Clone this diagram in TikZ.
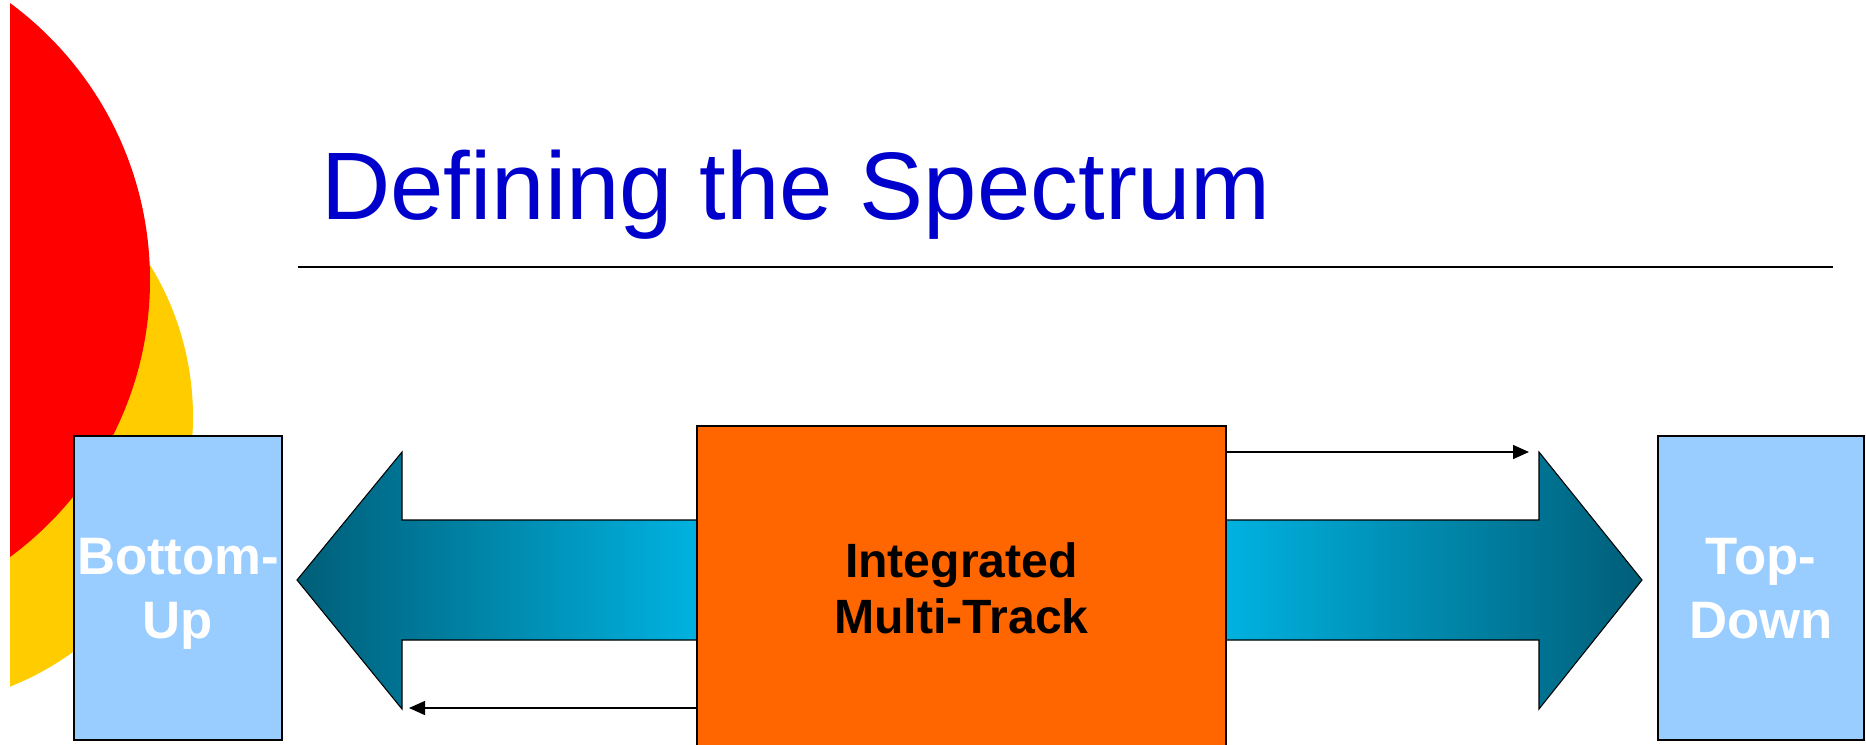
\documentclass[tikz,border=0pt]{standalone}
\usepackage{fontspec}
\setmainfont{Liberation Sans}
\usetikzlibrary{arrows.meta}
\definecolor{titleblue}{RGB}{0,0,204}
\definecolor{boxblue}{RGB}{153,204,255}
\definecolor{trackorange}{RGB}{255,102,0}
\definecolor{sunred}{RGB}{255,0,0}
\definecolor{sunyellow}{RGB}{255,204,0}
\definecolor{tealdark}{RGB}{0,94,120}
\definecolor{tealbright}{RGB}{0,178,224}
\begin{document}
\begin{tikzpicture}[x=0.02cm,y=-0.02cm,>={Triangle[length=0.32cm,width=0.28cm]},
	sidebox/.style={draw=black,line width=1pt,fill=boxblue,inner xsep=1pt,minimum width=4.16cm,minimum height=6.08cm,align=center,text=white,text depth=0pt,font=\fontsize{30}{36.4}\selectfont\bfseries},
	bigarrow/.style={draw=black,line width=0.6pt},
	thinarrow/.style={->,line width=0.8pt}]
		\useasboundingbox (0,0) rectangle (1866,744);
		% circles in the corner
		\begin{scope}
		\clip (10,0) rectangle (400,744);
		\fill[sunyellow] (-97,417) circle (290);
		\fill[sunred] (-194,280) circle (344);
		\end{scope}
		\node[anchor=base west,inner sep=0,text=titleblue,font=\fontsize{54.6}{60}\selectfont] (title) at (321,219) {Defining the Spectrum};
		\draw[line width=1.2pt] (298,267) -- (1833,267);
		% big arrows
		\draw[bigarrow,left color=tealdark,right color=tealbright] (697,520) -- (402,520) -- (402,452) -- (297,580) -- (402,709) -- (402,640) -- (697,640) -- cycle;
		\draw[bigarrow,left color=tealbright,right color=tealdark] (1226,520) -- (1539,520) -- (1539,452) -- (1642,580) -- (1539,709) -- (1539,640) -- (1226,640) -- cycle;
		\node[sidebox] (bu) at (178,588) {Bottom-\\Up};
		\node[sidebox,minimum width=4.12cm] (td) at (1761,588) {Top-\\Down};
		\node[draw=black,line width=1pt,fill=trackorange,minimum width=10.58cm,minimum height=6.48cm,align=center,font=\fontsize{27.4}{31.9}\selectfont\bfseries] (imt) at (961.5,588) {Integrated\\Multi-Track};
		\coordinate (rtip) at (1529,452);
		\coordinate (ltip) at (409,708);
		\draw[thinarrow] (imt.east |- rtip) -- (rtip);
		\draw[thinarrow] (imt.west |- ltip) -- (ltip);
\end{tikzpicture}
\end{document}
